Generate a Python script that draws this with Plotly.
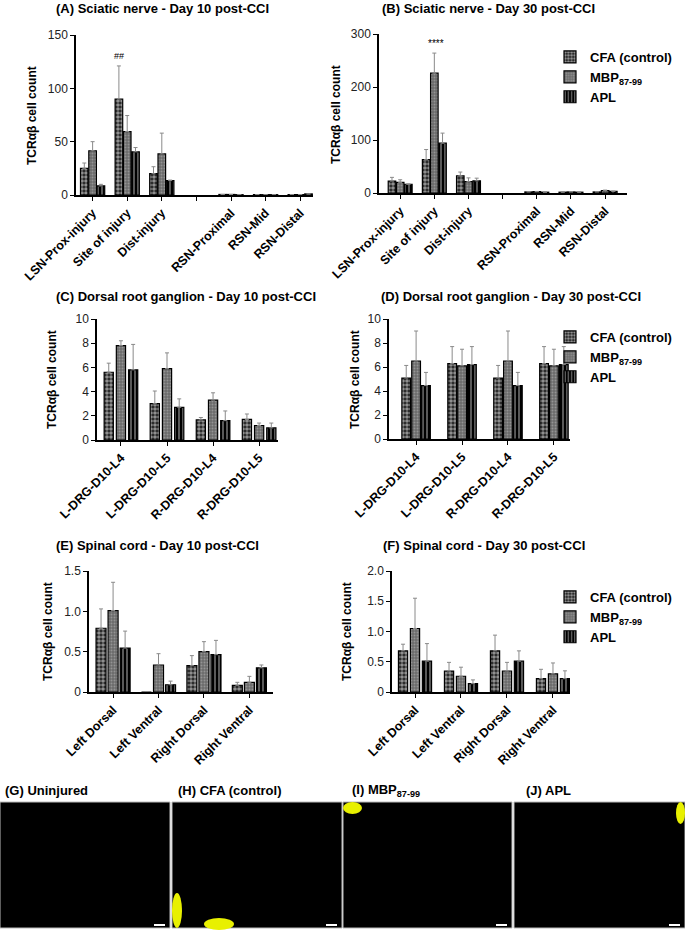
import plotly.graph_objects as go

W, H = 685, 930

# ---- data ----
groups = ["CFA (control)", "MBP<sub>87-99</sub>", "APL"]

sn_order = ["LSN-Prox-injury", "Site of injury", "Dist-injury", " ", "RSN-Proximal", "RSN-Mid", "RSN-Distal"]
sn_cats = ["LSN-Prox-injury", "Site of injury", "Dist-injury", "RSN-Proximal", "RSN-Mid", "RSN-Distal"]

a_cfa = [25, 90, 20, 0.5, 0.4, 0.4]
a_cfa_sem = [5, 31, 6.5, 0, 0, 0]
a_mbp = [41.5, 59.5, 38.5, 0.5, 0.3, 0.4]
a_mbp_sem = [8.5, 15, 19.5, 0, 0, 0]
a_apl = [8.5, 40.5, 13.5, 0.3, 0.3, 1.0]
a_apl_sem = [1.5, 4, 0.5, 0, 0, 0]

b_cfa = [22.5, 63, 32.5, 2, 1.5, 2]
b_cfa_sem = [7, 19, 7, 0.5, 0.5, 0.5]
b_mbp = [20, 226, 21.5, 2.5, 2, 4.5]
b_mbp_sem = [5, 38, 7, 0.5, 0.5, 1]
b_apl = [16.5, 94, 23, 1.5, 1.5, 3]
b_apl_sem = [0.5, 19, 5, 0.3, 0.3, 0.5]

drg_cats = ["L-DRG-D10-L4", "L-DRG-D10-L5", "R-DRG-D10-L4", "R-DRG-D10-L5"]

c_cfa = [5.6, 3.0, 1.66, 1.7]
c_cfa_sem = [0.75, 1.05, 0.2, 0.45]
c_mbp = [7.8, 5.9, 3.3, 1.2]
c_mbp_sem = [0.4, 1.3, 0.6, 0.2]
c_apl = [5.8, 2.7, 1.6, 1.0]
c_apl_sem = [2.1, 0.7, 0.8, 0.4]

d_cfa = [5.08, 6.28, 5.08, 6.28]
d_cfa_sem = [1.05, 1.42, 1.05, 1.42]
d_mbp = [6.5, 6.1, 6.5, 6.1]
d_mbp_sem = [2.5, 1.38, 2.5, 1.38]
d_apl = [4.45, 6.2, 4.45, 6.2]
d_apl_sem = [1.1, 1.5, 1.1, 1.5]

sc_cats = ["Left Dorsal", "Left Ventral", "Right Dorsal", "Right Ventral"]

e_cfa = [0.79, 0, 0.326, 0.083]
e_cfa_sem = [0.24, 0, 0.125, 0.037]
e_mbp = [1.01, 0.335, 0.5, 0.12]
e_mbp_sem = [0.35, 0.14, 0.124, 0.074]
e_apl = [0.545, 0.09, 0.463, 0.3]
e_apl_sem = [0.21, 0.045, 0.177, 0.035]

f_cfa = [0.68, 0.347, 0.68, 0.22]
f_cfa_sem = [0.11, 0.143, 0.26, 0.155]
f_mbp = [1.05, 0.26, 0.347, 0.30]
f_mbp_sem = [0.5, 0.15, 0.143, 0.18]
f_apl = [0.51, 0.138, 0.51, 0.22]
f_apl_sem = [0.29, 0.062, 0.17, 0.13]

image_labels = ["(G) Uninjured", "(H) CFA (control)", "(I) MBP<sub>87-99</sub>", "(J) APL"]

FONT = "Liberation Sans, Arial, sans-serif"


def px(p):
    return p / W


def py(p):
    return 1 - p / H


# bar look for each group
styles = [
    dict(color="#1e1e1e", pattern=dict(shape=".", fgcolor="white", size=4, solidity=0.65, fillmode="overlay")),
    dict(color="#6a6a6a", pattern=dict(shape=".", fgcolor="#bdbdbd", size=3, solidity=0.35, fillmode="overlay")),
    dict(color="black", pattern=dict(shape="|", fgcolor="white", size=4, solidity=0.35, fillmode="overlay")),
]

panels = [
    dict(n=1, cats=sn_cats, order=sn_order,
         series=[(a_cfa, a_cfa_sem), (a_mbp, a_mbp_sem), (a_apl, a_apl_sem)],
         xd=(76, 313), yd=(35, 195), xr=[-0.48, 6.37], yr=[0, 150],
         tv=[0, 50, 100, 150], tt=["0", "50", "100", "150"],
         w=0.22, off=[-0.35, -0.11, 0.13], leg=None),
    dict(n=2, cats=sn_cats, order=sn_order,
         series=[(b_cfa, b_cfa_sem), (b_mbp, b_mbp_sem), (b_apl, b_apl_sem)],
         xd=(379, 627), yd=(34, 193), xr=[-0.62, 6.64], yr=[0, 300],
         tv=[0, 100, 200, 300], tt=["0", "100", "200", "300"],
         w=0.22, off=[-0.35, -0.11, 0.13], leg="legend"),
    dict(n=3, cats=drg_cats, order=drg_cats,
         series=[(c_cfa, c_cfa_sem), (c_mbp, c_mbp_sem), (c_apl, c_apl_sem)],
         xd=(97, 278), yd=(319, 440), xr=[-0.52, 3.41], yr=[0, 10],
         tv=[0, 2, 4, 6, 8, 10], tt=["0", "2", "4", "6", "8", "10"],
         w=0.2, off=[-0.365, -0.1, 0.165], leg=None),
    dict(n=4, cats=drg_cats, order=drg_cats,
         series=[(d_cfa, d_cfa_sem), (d_mbp, d_mbp_sem), (d_apl, d_apl_sem)],
         xd=(389, 570), yd=(319, 439), xr=[-0.59, 3.35], yr=[0, 10],
         tv=[0, 2, 4, 6, 8, 10], tt=["0", "2", "4", "6", "8", "10"],
         w=0.19, off=[-0.31, -0.095, 0.12], leg="legend2"),
    dict(n=5, cats=sc_cats, order=sc_cats,
         series=[(e_cfa, e_cfa_sem), (e_mbp, e_mbp_sem), (e_apl, e_apl_sem)],
         xd=(89, 273), yd=(571, 692), xr=[-0.53, 3.52], yr=[0, 1.5],
         tv=[0, 0.5, 1.0, 1.5], tt=["0", "0.5", "1.0", "1.5"],
         w=0.22, off=[-0.375, -0.11, 0.155], leg=None),
    dict(n=6, cats=sc_cats, order=sc_cats,
         series=[(f_cfa, f_cfa_sem), (f_mbp, f_mbp_sem), (f_apl, f_apl_sem)],
         xd=(392, 570), yd=(571, 692), xr=[-0.5, 3.37], yr=[0, 2.0],
         tv=[0, 0.5, 1.0, 1.5, 2.0], tt=["0", "0.5", "1.0", "1.5", "2.0"],
         w=0.2, off=[-0.36, -0.1, 0.16], leg="legend3"),
]

fig = go.Figure()
layout = {}

for p in panels:
    n = p["n"]
    sfx = "" if n == 1 else str(n)
    for i, (vals, sem) in enumerate(p["series"]):
        st = styles[i]
        fig.add_trace(go.Bar(
            x=p["cats"], y=vals, name=groups[i],
            xaxis="x" + sfx, yaxis="y" + sfx,
            width=p["w"], offset=p["off"][i],
            marker=dict(color=st["color"], pattern=st["pattern"],
                        line=dict(color="black", width=1.2)),
            error_y=dict(type="data", symmetric=False, array=sem,
                         arrayminus=[0] * len(sem), color="#8a8a8a",
                         thickness=1, width=2),
            showlegend=p["leg"] is not None,
            legend=p["leg"] if p["leg"] else "legend",
        ))
    layout["xaxis" + sfx] = dict(
        domain=[px(p["xd"][0]), px(p["xd"][1])], anchor="y" + sfx,
        type="category", categoryorder="array", categoryarray=p["order"],
        range=p["xr"], showline=True, linecolor="black", linewidth=1.5,
        ticks="outside", ticklen=4, tickwidth=1.2, tickcolor="black",
        tickangle=-45, showgrid=False, zeroline=False,
        tickfont=dict(family=FONT, size=12.5, color="black", weight="bold"),
    )
    layout["yaxis" + sfx] = dict(
        domain=[py(p["yd"][1]), py(p["yd"][0])], anchor="x" + sfx,
        range=p["yr"], showline=True, linecolor="black", linewidth=1.5,
        ticks="outside", ticklen=4, tickwidth=1.2, tickcolor="black",
        tickvals=p["tv"], ticktext=p["tt"], showgrid=False, zeroline=False,
        tickfont=dict(family=FONT, size=12, color="#222222"),
    )

annotations = []

# panel titles
titles = [
    ("(A) Sciatic nerve - Day 10 post-CCI", 162, 9),
    ("(B) Sciatic nerve - Day 30 post-CCI", 488, 9),
    ("(C) Dorsal root ganglion - Day 10 post-CCI", 186, 296),
    ("(D) Dorsal root ganglion - Day 30 post-CCI", 511, 296),
    ("(E) Spinal cord - Day 10 post-CCI", 157, 545),
    ("(F) Spinal cord - Day 30 post-CCI", 484, 545),
]
for text, x, y in titles:
    annotations.append(dict(text=text, x=px(x), y=py(y), xref="paper", yref="paper",
                            showarrow=False, xanchor="center", yanchor="middle",
                            font=dict(family=FONT, size=13, color="black", weight="bold")))

# y-axis titles
for x, y in [(32, 115), (336, 115), (52, 380), (355, 380), (48, 632), (347, 632)]:
    annotations.append(dict(text="TCRαβ cell count", x=px(x), y=py(y), xref="paper", yref="paper",
                            showarrow=False, textangle=-90, xanchor="center", yanchor="middle",
                            font=dict(family=FONT, size=12, color="black", weight="bold")))

# significance marks
annotations.append(dict(text="##", x="Site of injury", y=130, xref="x", yref="y", xshift=-8,
                        showarrow=False, font=dict(family=FONT, size=9, color="black")))
annotations.append(dict(text="****", x="Site of injury", y=282, xref="x2", yref="y2", xshift=2,
                        showarrow=False, font=dict(family=FONT, size=10, color="black")))

# micrograph panels (G-J): dark fields with scale bars
img_x = [(0, 170), (172, 342), (343, 512), (514, 685)]
label_x = [3, 176, 350, 524]
shapes = []
for (x0, x1), lx, lab in zip(img_x, label_x, image_labels):
    shapes.append(dict(type="rect", xref="paper", yref="paper",
                       x0=px(x0), x1=px(x1), y0=py(928), y1=py(802),
                       fillcolor="black", line=dict(color="#bbbbbb", width=1)))
    shapes.append(dict(type="rect", xref="paper", yref="paper",
                       x0=px(x1 - 16), x1=px(x1 - 5), y0=py(926), y1=py(924),
                       fillcolor="white", line=dict(width=0)))
    annotations.append(dict(text=lab, x=px(lx), y=py(790), xref="paper", yref="paper",
                            showarrow=False, xanchor="left", yanchor="middle",
                            font=dict(family=FONT, size=13, color="black", weight="bold")))

# bright tissue edges seen at the image borders
blobs = [(172, 182, 893, 928), (204, 234, 918, 930), (343, 362, 802, 814), (676, 685, 802, 824)]
for x0, x1, y0, y1 in blobs:
    shapes.append(dict(type="circle", xref="paper", yref="paper",
                       x0=px(x0), x1=px(x1), y0=py(y1), y1=py(y0),
                       fillcolor="#e8f000", line=dict(width=0)))

legend_style = dict(xanchor="left", yanchor="top", bgcolor="rgba(0,0,0,0)",
                    font=dict(family=FONT, size=13, color="black", weight="bold"),
                    tracegroupgap=0, itemclick=False)

fig.update_layout(
    width=W, height=H,
    margin=dict(l=0, r=0, t=0, b=0, autoexpand=False),
    paper_bgcolor="white", plot_bgcolor="white",
    barmode="overlay",
    annotations=annotations, shapes=shapes,
    legend=dict(x=px(550), y=py(42), **legend_style),
    legend2=dict(x=px(550), y=py(322), **legend_style),
    legend3=dict(x=px(550), y=py(582), **legend_style),
    **layout,
)

fig.write_html("out.html", config={"displayModeBar": False},
               post_script="document.body.style.margin='0';")
